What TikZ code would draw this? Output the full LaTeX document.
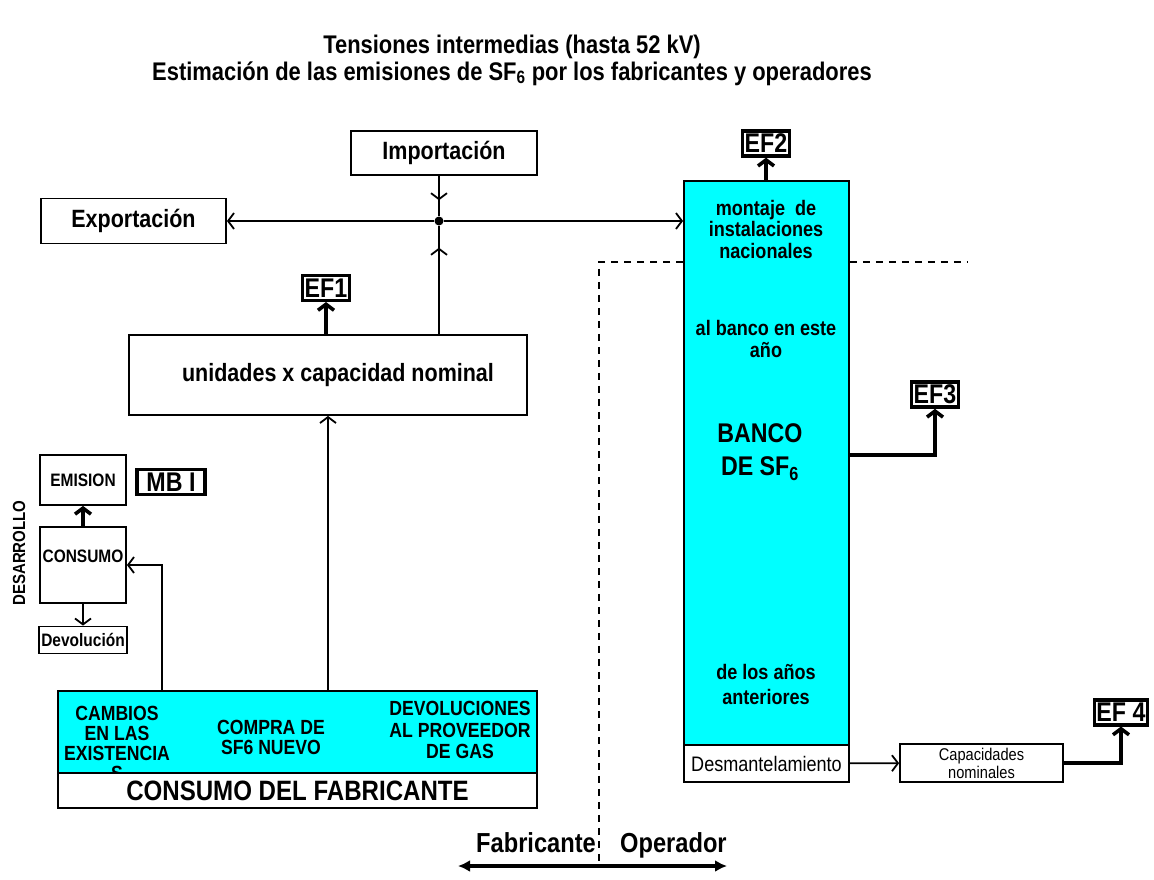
\documentclass[tikz,border=0pt]{standalone}
\usepackage{fontspec}
\setmainfont{Liberation Sans}[FakeStretch=0.86]
\usepackage{tikz}
\usetikzlibrary{arrows.meta}
\definecolor{bankcyan}{RGB}{0,255,255}

\begin{document}
\begin{tikzpicture}[x=1pt, y=-1pt, >={Straight Barb[length=6pt,width=16pt]},
		box_style/.style={rectangle,draw=black,line width=1.8pt,fill=white,inner sep=0pt,align=center,font=\bfseries\fontsize{25}{28}\selectfont},
		small_box_style/.style={box_style,font=\bfseries\fontsize{18}{20}\selectfont},
		cyan_style/.style={rectangle,draw=black,line width=1.8pt,fill=bankcyan,inner sep=0pt},
		ef_style/.style={rectangle,draw=black,line width=3.5pt,fill=white,inner xsep=2pt,inner ysep=3pt,font=\bfseries\fontsize{27}{27}\selectfont},
		dot_style/.style={circle,fill=black,inner sep=0pt,minimum size=9pt},
		text_style/.style={align=center,inner sep=0pt,font=\bfseries\fontsize{21}{21.5}\selectfont},
		cyan_text_style/.style={align=center,inner sep=0pt,font=\bfseries\fontsize{20.5}{20}\selectfont},
		side_style/.style={inner sep=0pt,font=\bfseries\fontsize{27.5}{30}\selectfont},
		edge_style/.style={draw=black,line width=1.8pt},
		thick_edge_style/.style={draw=black,line width=3.6pt},
		dash_style/.style={draw=black,line width=1.8pt,dash pattern=on 7pt off 6pt}]

		\useasboundingbox (0,0) rectangle (1154,879);

		% title
		\node[align=center,font=\bfseries\fontsize{25.5}{27}\selectfont] (title) at (512,60) {Tensiones intermedias (hasta 52 kV)\\Estimación de las emisiones de SF\textsubscript{6} por los fabricantes y operadores};

		% top row
		\node[box_style,minimum width=186pt,minimum height=44pt] (imp) at (444,153) {\raisebox{-4pt}{Importación}};
		\node[box_style,minimum width=185pt,minimum height=45pt] (exp) at (133.5,221) {Exportación};
		\node[dot_style] (dot) at (439,221) {};
		\node[box_style,minimum width=398pt,minimum height=80pt] (uni) at (328,375) {\hspace*{20pt}unidades x capacidad nominal};
		\node[ef_style] (ef1) at (326,288) {EF1};

		% bank
		\node[cyan_style,minimum width=165pt,minimum height=564pt] (bank) at (766.5,463) {};
		\node[box_style,font=\fontsize{21}{23}\selectfont,minimum width=165pt,minimum height=37pt] (desm) at (766.5,763.5) {Desmantelamiento};
		\node[text_style] (mont) at (766,229) {montaje~~de\\instalaciones\\nacionales};
		\node[text_style] (anio) at (766,339) {al banco en este\\año};
		\node[text_style,font=\bfseries\fontsize{27}{33}\selectfont] (banco) at (760,452) {BANCO\\DE SF\textsubscript{6}};
		\node[text_style,font=\bfseries\fontsize{21}{25}\selectfont] (ant) at (766,684) {de los años\\anteriores};
		\node[ef_style] (ef2) at (766,143.5) {EF2};
		\node[ef_style] (ef3) at (935,394.5) {EF3};
		\node[box_style,font=\fontsize{17}{18}\selectfont,minimum width=163pt,minimum height=38pt] (capac) at (981.5,763) {Capacidades\\nominales};
		\node[ef_style] (ef4) at (1121,712.5) {EF 4};

		% left side
		\node[small_box_style,minimum width=86pt,minimum height=50pt] (emis) at (83,480) {EMISION};
		\node[ef_style,minimum width=68pt] (mbi) at (171,482) {MB I};
		\node[small_box_style,minimum width=86pt,minimum height=76pt] (consumo) at (83,565) {};
		\node[font=\bfseries\fontsize{18}{20}\selectfont,inner sep=0pt] (constext) at (83,556) {CONSUMO};
		\node[small_box_style,minimum width=88pt,minimum height=27pt] (devol) at (83,640) {Devolución};
		\node[rotate=90,inner sep=0pt,font=\bfseries\fontsize{17.5}{20}\selectfont] (desa) at (19,553) {DESARROLLO};

		% fabricante
		\node[cyan_style,minimum width=479pt,minimum height=82pt] (fab) at (297.5,732) {};
		\node[cyan_text_style] (camb) at (117,743) {CAMBIOS\\EN LAS\\EXISTENCIA\\S};
		\node[cyan_text_style] (compra) at (271,737) {COMPRA DE\\SF6 NUEVO};
		\node[cyan_text_style,font=\bfseries\fontsize{20.5}{21.5}\selectfont] (devprov) at (460,730) {DEVOLUCIONES\\AL PROVEEDOR\\DE GAS};
		\node[box_style,font=\bfseries\fontsize{28}{30}\selectfont,minimum width=479pt,minimum height=35pt] (cfab) at (297.5,790.5) {CONSUMO DEL FABRICANTE};

		% fabricante / operador
		\coordinate (dl) at (599,262);
		\coordinate (dr) at (968,262);
		\coordinate (db) at (599,868);
		\coordinate (fl) at (458,866);
		\coordinate (fr) at (727,866);
		\node[side_style,anchor=base east] (fabr) at (596,852) {Fabricante};
		\node[side_style,anchor=base west] (oper) at (620,852) {Operador};

		\draw[dash_style] (bank.west |- dl) -- (dl) -- (db);
		\draw[dash_style] (bank.east |- dr) -- (dr);
		\draw[thick_edge_style,{Latex[length=12pt,width=12pt]}-{Latex[length=12pt,width=12pt]}] (fl) -- (fr);

		\draw[edge_style,->] (dot) -- (exp);
		\draw[edge_style,->] (dot) -- (dot -| bank.west);
		\draw[edge_style] (dot |- imp.south) -- (dot);
		\draw[edge_style,->,shorten >=16pt] (dot |- imp.south) -- (dot);
		\draw[edge_style] (dot |- uni.north) -- (dot);
		\draw[edge_style,->,shorten >=22pt] (dot |- uni.north) -- (dot);
		\draw[thick_edge_style,->] (ef1.south |- uni.north) -- (ef1);
		\draw[edge_style,->] (fab.north -| uni.south) -- (uni.south);
		\draw[edge_style,->] (fab.north west) ++(105,0) |- (consumo.east);
		\draw[thick_edge_style,->] (consumo) -- (emis);
		\draw[edge_style,->] (consumo) -- (devol);
		\draw[thick_edge_style,->] (ef2.south |- bank.north) -- (ef2);
		\draw[thick_edge_style,->] (bank.east) ++(0,-8) -| (ef3);
		\draw[edge_style,->] (desm) -- (capac);
		\draw[thick_edge_style,->] (capac) -| (ef4);
\end{tikzpicture}
\end{document}
